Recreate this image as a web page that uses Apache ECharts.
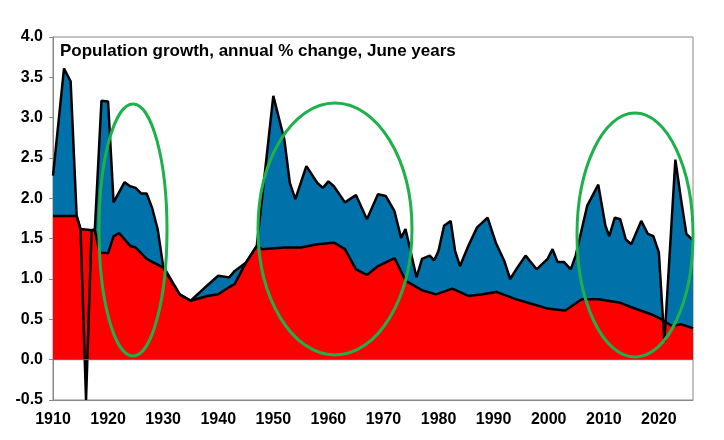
<!DOCTYPE html>
<html>
<head>
<meta charset="utf-8">
<script src="https://cdn.jsdelivr.net/npm/echarts@6/dist/echarts.min.js"></script>
<style>html,body{margin:0;padding:0;background:#fff}#chart{width:724px;height:440px}</style>
</head>
<body>
<div id="chart"></div>
<script>
// total population growth, %
var totalYears = [1910, 1912, 1913.2, 1914.3, 1915, 1916, 1917, 1917.6, 1918.8, 1920, 1921, 1923, 1924, 1925, 1926, 1927, 1928, 1929, 1930, 1933, 1935, 1938, 1940, 1942, 1943, 1945, 1947, 1950, 1952, 1953, 1954, 1956, 1958, 1959, 1960, 1961, 1963, 1965, 1967, 1969, 1970.4, 1972, 1973.2, 1974, 1976, 1977, 1978.4, 1979.2, 1980, 1981, 1982.2, 1983, 1983.9, 1985.4, 1987, 1988.9, 1990.4, 1991.9, 1993, 1994.3, 1995.8, 1997.8, 1999.8, 2000.7, 2001.6, 2002.8, 2004, 2004.9, 2007, 2009, 2010.3, 2011, 2012, 2013, 2014, 2015, 2016.8, 2018, 2019, 2020, 2021, 2023, 2024, 2025, 2026.2];
var totalValues = [2.28, 3.61, 3.45, 1.78, 1.62, -0.5, 1.6, 1.62, 3.21, 3.2, 1.95, 2.2, 2.15, 2.13, 2.06, 2.06, 1.88, 1.62, 1.16, 0.81, 0.73, 0.92, 1.04, 1.02, 1.1, 1.2, 1.41, 3.27, 2.73, 2.19, 1.99, 2.4, 2.19, 2.13, 2.21, 2.15, 1.95, 2.04, 1.74, 2.05, 2.03, 1.84, 1.51, 1.62, 1.02, 1.25, 1.29, 1.23, 1.35, 1.66, 1.72, 1.35, 1.16, 1.41, 1.64, 1.76, 1.45, 1.23, 1.0, 1.14, 1.29, 1.12, 1.25, 1.37, 1.21, 1.21, 1.12, 1.29, 1.91, 2.17, 1.66, 1.53, 1.76, 1.74, 1.49, 1.43, 1.72, 1.56, 1.53, 1.33, 0.22, 2.48, 2.0, 1.56, 1.48];
// natural increase, %
var naturalYears = [1910, 1914.3, 1915, 1917.6, 1918.5, 1920, 1921, 1922, 1924, 1925, 1927, 1930, 1933, 1935, 1938, 1940, 1942, 1943, 1945, 1947, 1948, 1952, 1955, 1958, 1961, 1963, 1965, 1967, 1969, 1972, 1973, 1974, 1977, 1979.5, 1982.5, 1985.4, 1988, 1990.5, 1994, 1997, 2000, 2003, 2006, 2009, 2012.8, 2015, 2018.7, 2020.5, 2022.3, 2024, 2026.2];
var naturalValues = [1.78, 1.78, 1.62, 1.6, 1.33, 1.32, 1.53, 1.57, 1.41, 1.39, 1.25, 1.14, 0.81, 0.73, 0.79, 0.81, 0.9, 0.94, 1.2, 1.41, 1.37, 1.39, 1.39, 1.43, 1.45, 1.37, 1.12, 1.05, 1.16, 1.26, 1.12, 0.98, 0.86, 0.81, 0.88, 0.79, 0.81, 0.84, 0.75, 0.69, 0.63, 0.61, 0.75, 0.75, 0.71, 0.65, 0.56, 0.5, 0.42, 0.44, 0.39];

function pairs(xs, ys) {
    return xs.map(function (x, i) { return [x, ys[i]]; });
}

var chart = echarts.init(document.getElementById('chart'));
var boldFont = { fontFamily: 'Liberation Sans, Arial', fontWeight: 'bold', fontSize: 16, color: '#000' };

chart.setOption({
    animation: false,
    grid: { left: 53, right: 31, top: 37, bottom: 40, show: true, borderColor: '#888', borderWidth: 1 },
    xAxis: {
        type: 'value', min: 1910, max: 2026.2, interval: 10,
        axisLine: { onZero: false, lineStyle: { color: '#888' } },
        axisTick: { show: false },
        splitLine: { show: false },
        axisLabel: Object.assign({ margin: 12, showMaxLabel: false, formatter: function (v) { return String(v); } }, boldFont)
    },
    yAxis: {
        type: 'value', min: -0.5, max: 4, interval: 0.5,
        axisLine: { show: true, lineStyle: { color: '#888' } },
        axisTick: { show: true, inside: false, length: 4, lineStyle: { color: '#888' } },
        splitLine: { show: false },
        axisLabel: Object.assign({ margin: 10, formatter: function (v) { return v.toFixed(1); } }, boldFont)
    },
    series: [
        {
            type: 'line', data: pairs(totalYears, totalValues), symbol: 'none',
            lineStyle: { width: 0 }, areaStyle: { color: '#0071a9', opacity: 1 }, z: 1
        },
        {
            type: 'line', data: pairs(naturalYears, naturalValues), symbol: 'none',
            lineStyle: { color: '#000', width: 2.5 }, areaStyle: { color: '#ff0000', opacity: 1 }, z: 2
        },
        {
            type: 'line', data: pairs(totalYears, totalValues), symbol: 'none',
            lineStyle: { color: '#000', width: 2.5 }, z: 3
        },
        {
            type: 'line', data: [[1910, 0], [2026.2, 0]], symbol: 'none', silent: true,
            lineStyle: { color: '#b05050', width: 1 }, z: 4
        }
    ],
    graphic: [
        { type: 'text', left: 60, top: 43, style: { text: 'Population growth, annual % change, June years', font: 'bold 17px "Liberation Sans", Arial', fill: '#000' } },
        { type: 'text', left: 500, top: 276, style: { text: '>   Net immigration', font: 'bold 15px "Liberation Sans", Arial', fill: '#fff' } },
        { type: 'text', left: 417, top: 322, style: { text: '>   Natural increase', font: 'bold 15px "Liberation Sans", Arial', fill: '#fff' } },
        { type: 'ellipse', shape: { cx: 133, cy: 230, rx: 34, ry: 126 }, style: { fill: 'none', stroke: '#1db04b', lineWidth: 3 }, z: 10 },
        { type: 'ellipse', shape: { cx: 335, cy: 229, rx: 77, ry: 126 }, style: { fill: 'none', stroke: '#1db04b', lineWidth: 3 }, z: 10 },
        { type: 'ellipse', shape: { cx: 635, cy: 235, rx: 58, ry: 122 }, style: { fill: 'none', stroke: '#1db04b', lineWidth: 3 }, z: 10 }
    ]
});
</script>
</body>
</html>
